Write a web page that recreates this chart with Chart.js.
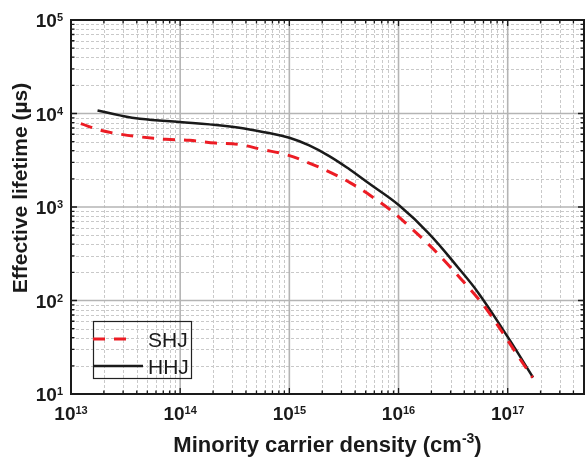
<!DOCTYPE html>
<html>
<head>
<meta charset="utf-8">
<script src="https://cdn.jsdelivr.net/npm/chart.js@4"></script>
<style>
  body { margin: 0; background: #fff; }
  #wrap { width: 585px; height: 457px; }
</style>
</head>
<body>
<div id="wrap"><canvas id="chart" width="585" height="457"></canvas></div>
<script>
// SHJ curve (dashed red)
const shjDensity = [1.23e13, 1.9e13, 2.9e13, 4.43e13, 7.38e13, 1.22e14, 2.11e14, 3.49e14, 5.52e14, 9.33e14,
  1.52e15, 2.4e15, 3.66e15, 5.77e15, 8.49e15, 1.25e16, 1.83e16, 2.61e16, 3.7e16, 5.36e16,
  7.1e16, 9.53e16, 1.26e17, 1.69e17];
const shjLifetime = [7780, 6590, 5980, 5600, 5290, 5160, 4830, 4650, 4140, 3630,
  2950, 2330, 1800, 1280, 923, 622, 412, 270, 172, 105,
  68, 40.8, 24.9, 15.0];

// HHJ curve (solid black)
const hhjDensity = [1.75e13, 2.8e13, 4.27e13, 9.9e13, 1.86e14, 3.49e14, 6.12e14, 1e15, 1.52e15, 2.32e15,
  3.55e15, 5.38e15, 1.01e16, 1.9e16, 3.57e16, 5.43e16, 1e17, 1.71e17];
const hhjLifetime = [10790, 9550, 8790, 8090, 7650, 7050, 6250, 5500, 4550, 3500,
  2530, 1780, 1042, 520, 220, 119, 40.8, 15.0];

// axis decades (labels are 10^n)
const xDecades = [13, 14, 15, 16, 17];
const yDecades = [1, 2, 3, 4, 5];
const xMin = 1e13, xMax = 5e17;
const yMin = 10, yMax = 1e5;

const FONT = '"Liberation Sans", Arial, sans-serif';

const toPoints = (xs, ys) => xs.map((x, i) => ({ x: x, y: ys[i] }));

// every 1..9 x 10^n inside [min,max]
function logTicks(min, max) {
  const out = [];
  for (let n = Math.floor(Math.log10(min)); n <= Math.ceil(Math.log10(max)); n++) {
    for (let k = 1; k <= 9; k++) {
      const v = k * Math.pow(10, n);
      if (v >= min * 0.999 && v <= max * 1.001) out.push({ v: v, major: k === 1 });
    }
  }
  return out;
}

function drawPow(ctx, exp, x, y, align) {
  // y = baseline of the "10"
  ctx.font = 'bold 19px ' + FONT;
  const wBase = ctx.measureText('10').width;
  ctx.font = 'bold 11px ' + FONT;
  const wExp = ctx.measureText(String(exp)).width;
  let left = align === 'center' ? x - (wBase + wExp) / 2 : x - (wBase + wExp);
  ctx.textAlign = 'left';
  ctx.textBaseline = 'alphabetic';
  ctx.font = 'bold 19px ' + FONT;
  ctx.fillText('10', left, y);
  ctx.font = 'bold 11px ' + FONT;
  ctx.fillText(String(exp), left + wBase, y - 6);
}

const framePlugin = {
  id: 'frame',
  beforeDatasetsDraw(chart) {
    const { ctx, chartArea: a, scales } = chart;
    const xs = scales.x, ys = scales.y;
    ctx.save();
    ctx.beginPath();
    ctx.rect(a.left, a.top, a.right - a.left, a.bottom - a.top);
    ctx.clip();
    // minor grid
    ctx.strokeStyle = '#c9c9c9';
    ctx.lineWidth = 1;
    ctx.setLineDash([3, 2]);
    logTicks(xMin, xMax).filter(t => !t.major).forEach(t => {
      const px = Math.round(xs.getPixelForValue(t.v)) + 0.5;
      ctx.beginPath(); ctx.moveTo(px, a.top); ctx.lineTo(px, a.bottom); ctx.stroke();
    });
    logTicks(yMin, yMax).filter(t => !t.major).forEach(t => {
      const py = Math.round(ys.getPixelForValue(t.v)) + 0.5;
      ctx.beginPath(); ctx.moveTo(a.left, py); ctx.lineTo(a.right, py); ctx.stroke();
    });
    // major grid
    ctx.setLineDash([]);
    ctx.strokeStyle = '#b4b4b4';
    ctx.lineWidth = 1.6;
    xDecades.forEach(n => {
      const px = xs.getPixelForValue(Math.pow(10, n));
      ctx.beginPath(); ctx.moveTo(px, a.top); ctx.lineTo(px, a.bottom); ctx.stroke();
    });
    yDecades.forEach(n => {
      const py = ys.getPixelForValue(Math.pow(10, n));
      ctx.beginPath(); ctx.moveTo(a.left, py); ctx.lineTo(a.right, py); ctx.stroke();
    });
    ctx.restore();
  },
  afterDatasetsDraw(chart) {
    const { ctx, chartArea: a, scales } = chart;
    const xs = scales.x, ys = scales.y;
    ctx.save();
    ctx.fillStyle = '#1a1a1a';
    ctx.strokeStyle = '#1a1a1a';

    // inward ticks on all four sides
    ctx.lineWidth = 1.3;
    logTicks(xMin, xMax).forEach(t => {
      const px = xs.getPixelForValue(t.v);
      const len = t.major ? 6 : 3.5;
      ctx.beginPath();
      ctx.moveTo(px, a.bottom); ctx.lineTo(px, a.bottom - len);
      ctx.moveTo(px, a.top); ctx.lineTo(px, a.top + len);
      ctx.stroke();
    });
    logTicks(yMin, yMax).forEach(t => {
      const py = ys.getPixelForValue(t.v);
      const len = t.major ? 6 : 3.5;
      ctx.beginPath();
      ctx.moveTo(a.left, py); ctx.lineTo(a.left + len, py);
      ctx.moveTo(a.right, py); ctx.lineTo(a.right - len, py);
      ctx.stroke();
    });

    // frame
    ctx.lineWidth = 2;
    ctx.strokeRect(a.left, a.top, a.right - a.left, a.bottom - a.top);

    // tick labels
    xDecades.forEach(n => {
      drawPow(ctx, n, xs.getPixelForValue(Math.pow(10, n)), a.bottom + 26, 'center');
    });
    yDecades.forEach(n => {
      drawPow(ctx, n, a.left - 8, ys.getPixelForValue(Math.pow(10, n)) + 7, 'right');
    });

    // x title with superscript
    const xt1 = 'Minority carrier density (cm', xtSup = '-3', xt2 = ')';
    ctx.font = 'bold 22px ' + FONT;
    const w1 = ctx.measureText(xt1).width, w2 = ctx.measureText(xt2).width;
    ctx.font = 'bold 14px ' + FONT;
    const wS = ctx.measureText(xtSup).width;
    let tx = (a.left + a.right) / 2 - (w1 + wS + w2) / 2;
    const tb = 452;
    ctx.textAlign = 'left';
    ctx.textBaseline = 'alphabetic';
    ctx.font = 'bold 22px ' + FONT;
    ctx.fillText(xt1, tx, tb);
    ctx.font = 'bold 14px ' + FONT;
    ctx.fillText(xtSup, tx + w1, tb - 9);
    ctx.font = 'bold 22px ' + FONT;
    ctx.fillText(xt2, tx + w1 + wS, tb);

    // y title
    ctx.save();
    ctx.translate(21, 188);
    ctx.rotate(-Math.PI / 2);
    ctx.font = 'bold 21px ' + FONT;
    ctx.textAlign = 'center';
    ctx.textBaseline = 'middle';
    ctx.fillText('Effective lifetime (\u00B5s)', 0, 0);
    ctx.restore();

    // legend
    const ds = chart.data.datasets;
    ctx.lineWidth = 1.2;
    ctx.strokeStyle = '#222';
    ctx.strokeRect(93.5, 321.5, 98, 57);
    const rows = [{ y: 339, x2: 130 }, { y: 366, x2: 143 }];
    ds.forEach((d, i) => {
      ctx.beginPath();
      ctx.strokeStyle = d.borderColor;
      ctx.lineWidth = d.borderWidth;
      ctx.setLineDash(d.borderDash || []);
      ctx.moveTo(93, rows[i].y); ctx.lineTo(rows[i].x2, rows[i].y);
      ctx.stroke();
      ctx.setLineDash([]);
      ctx.fillStyle = '#1a1a1a';
      ctx.font = '21px ' + FONT;
      ctx.textAlign = 'left';
      ctx.textBaseline = 'alphabetic';
      ctx.fillText(d.label, 148, rows[i].y + 8);
    });
    ctx.restore();
  }
};

new Chart(document.getElementById('chart'), {
  type: 'scatter',
  data: {
    datasets: [
      {
        label: 'SHJ',
        data: toPoints(shjDensity, shjLifetime),
        showLine: true,
        borderColor: '#ec1c24',
        borderWidth: 3,
        borderDash: [12, 9],
        pointRadius: 0,
        tension: 0.4
      },
      {
        label: 'HHJ',
        data: toPoints(hhjDensity, hhjLifetime),
        showLine: true,
        borderColor: '#1a1a1a',
        borderWidth: 2.5,
        pointRadius: 0,
        tension: 0.4
      }
    ]
  },
  options: {
    responsive: false,
    animation: false,
    layout: { padding: { left: 0, top: 20, right: 1, bottom: 0 } },
    plugins: {
      legend: { display: false },
      tooltip: { enabled: false }
    },
    scales: {
      x: {
        type: 'logarithmic',
        min: xMin,
        max: xMax,
        grid: { display: false },
        border: { display: false },
        ticks: { display: false },
        afterFit: s => { s.height = 63; }
      },
      y: {
        type: 'logarithmic',
        min: yMin,
        max: yMax,
        grid: { display: false },
        border: { display: false },
        ticks: { display: false },
        afterFit: s => { s.width = 71; }
      }
    }
  },
  plugins: [framePlugin]
});
</script>
</body>
</html>
